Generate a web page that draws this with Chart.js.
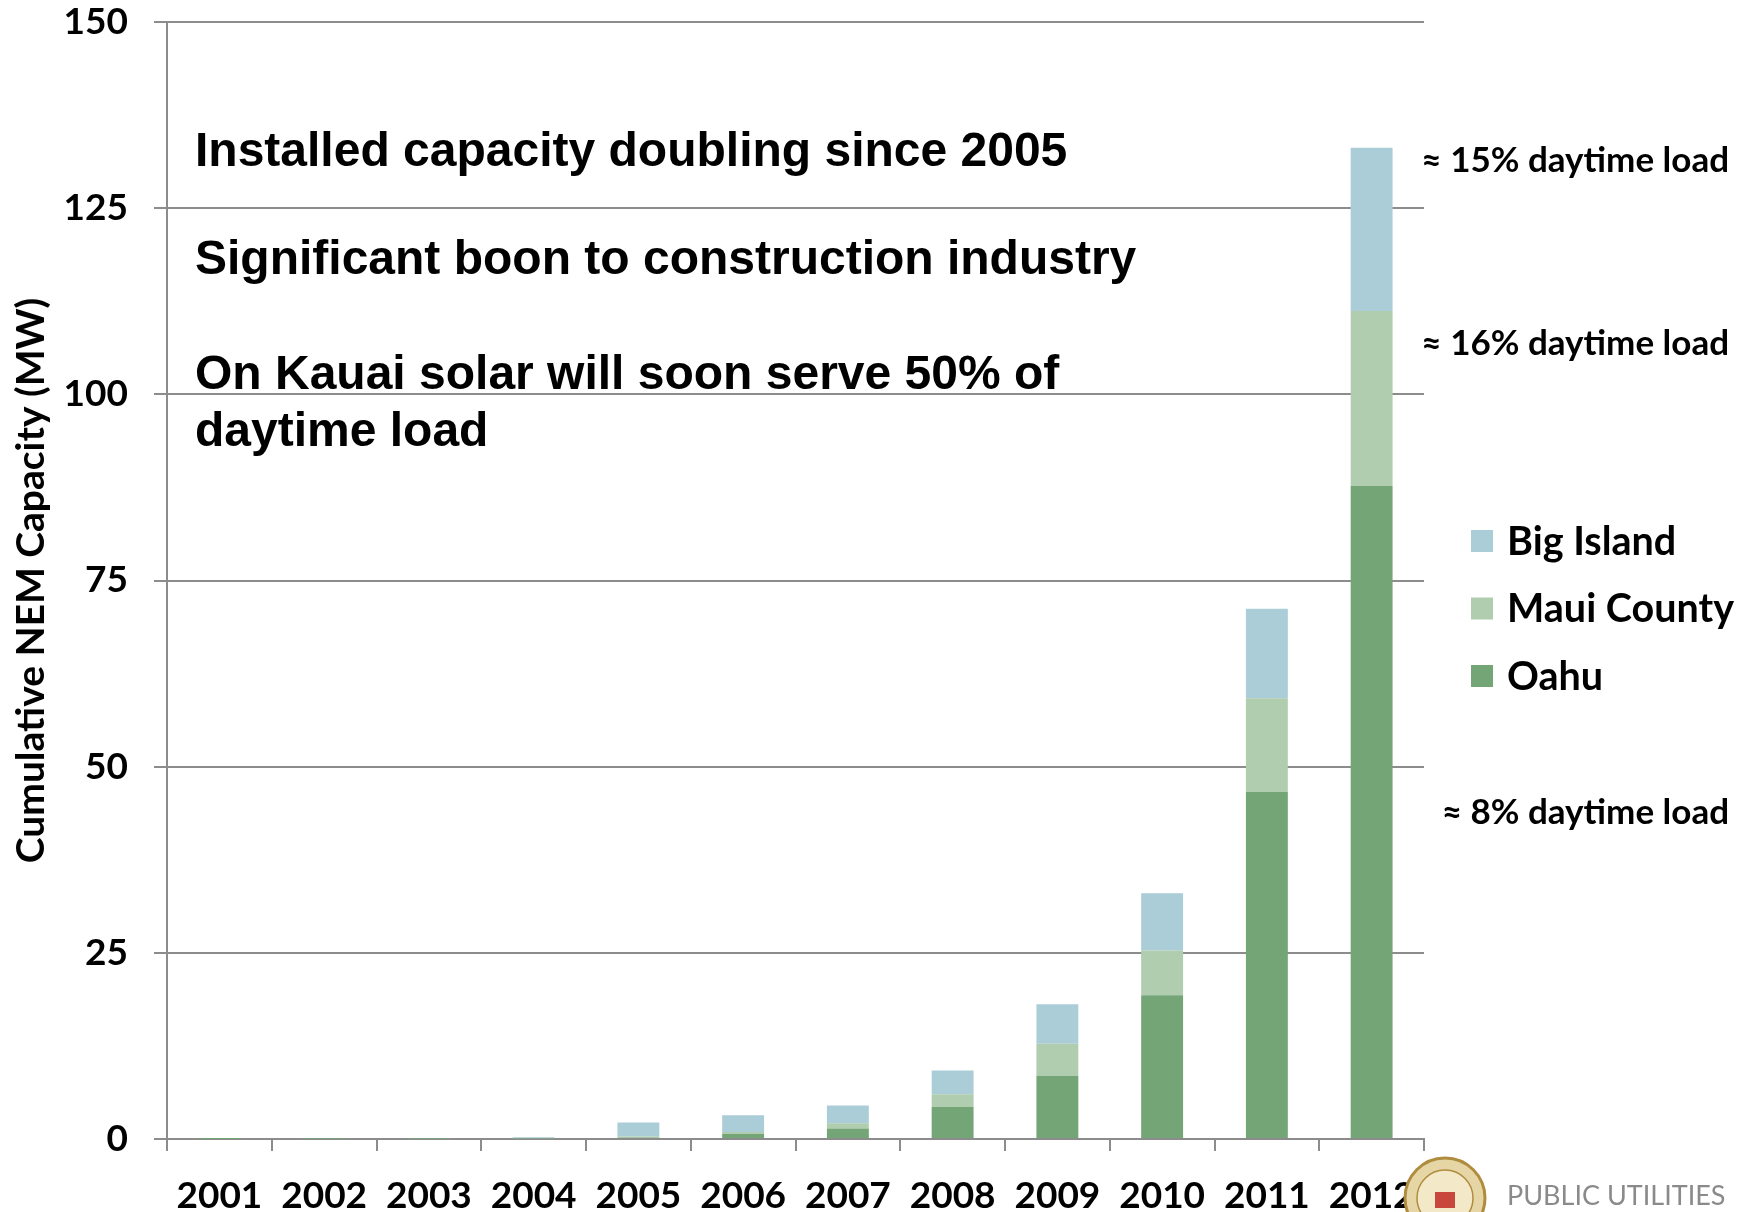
<!DOCTYPE html>
<html>
<head>
<meta charset="utf-8">
<script src="https://cdn.jsdelivr.net/npm/chart.js@4"></script>
<style>
  html, body { margin: 0; padding: 0; background: #fff; }
  #wrap { width: 1750px; height: 1212px; position: relative; }
</style>
</head>
<body>
<div id="wrap"><canvas id="nemChart"></canvas></div>
<script>
const years = ['2001', '2002', '2003', '2004', '2005', '2006', '2007', '2008', '2009', '2010', '2011', '2012'];
const oahu = [0.01, 0.02, 0.04, 0.1, 0.2, 0.7, 1.4, 4.3, 8.5, 19.3, 46.6, 87.7];
const maui = [0, 0.01, 0.01, 0.05, 0.15, 0.25, 0.7, 1.7, 4.3, 6.0, 12.6, 23.5];
const bigIsland = [0, 0.01, 0.02, 0.1, 1.85, 2.25, 2.4, 3.2, 5.3, 7.7, 12.0, 21.9];
const yTicks = [0, 25, 50, 75, 100, 125, 150];

const notes = [
  'Installed capacity doubling since 2005',
  'Significant boon to construction industry',
  'On Kauai solar will soon serve 50% of',
  'daytime load'
];
const loadNotes = ['\u2248 15% daytime load', '\u2248 16% daytime load', '\u2248 8% daytime load'];

const gridGrey = '#8c8c8c';

// text boxes, legend and footer drawn on top of the chart
const overlay = {
  id: 'overlay',
  afterDraw(chart) {
    const ctx = chart.ctx;
    const y = chart.scales.y;
    const area = chart.chartArea;
    ctx.save();

    ctx.fillStyle = '#000';
    ctx.font = 'bold 48px "Liberation Sans", Arial, sans-serif';
    ctx.textAlign = 'left';
    ctx.textBaseline = 'middle';
    const noteLevels = [132.5, 117.9, 102.5, 94.9];
    notes.forEach((t, i) => ctx.fillText(t, area.left + 28, y.getPixelForValue(noteLevels[i])));

    // percentages beside the 2012 bar
    const last = years.length - 1;
    const topBig = oahu[last] + maui[last] + bigIsland[last];
    const levels = [topBig - 1.7, oahu[last] + maui[last] - 4.4, oahu[last] / 2];
    ctx.font = 'bold 35px Lato, sans-serif';
    ctx.textAlign = 'right';
    loadNotes.forEach((t, i) => ctx.fillText(t, 1729, y.getPixelForValue(levels[i])));

    // legend, reverse order of the stack
    const ds = chart.data.datasets.slice().reverse();
    ctx.font = 'bold 39.5px Lato, sans-serif';
    ctx.textAlign = 'left';
    ds.forEach((d, i) => {
      const cy = 541 + i * 67.5;
      ctx.fillStyle = d.backgroundColor;
      ctx.fillRect(1471, cy - 11, 22, 22);
      ctx.fillStyle = '#000';
      ctx.fillText(d.label, 1507, cy + 1);
    });

    // seal + agency name
    ctx.beginPath();
    ctx.arc(1445, 1198, 40, 0, Math.PI * 2);
    ctx.fillStyle = '#e6d6a6';
    ctx.fill();
    ctx.lineWidth = 3;
    ctx.strokeStyle = '#b08c3e';
    ctx.stroke();
    ctx.beginPath();
    ctx.arc(1445, 1198, 28, 0, Math.PI * 2);
    ctx.fillStyle = '#f3e9c8';
    ctx.fill();
    ctx.lineWidth = 1.5;
    ctx.stroke();
    ctx.fillStyle = '#c9463d';
    ctx.fillRect(1435, 1192, 20, 16);
    ctx.fillStyle = '#8a8a8a';
    ctx.font = '27px Lato, sans-serif';
    ctx.fillText('PUBLIC UTILITIES', 1507, 1196);
    ctx.restore();
  }
};

const ctx = document.getElementById('nemChart').getContext('2d');
new Chart(ctx, {
  type: 'bar',
  data: {
    labels: years,
    datasets: [
      { label: 'Oahu', data: oahu, backgroundColor: '#73a577' },
      { label: 'Maui County', data: maui, backgroundColor: '#b0cdb0' },
      { label: 'Big Island', data: bigIsland, backgroundColor: '#aacdd7' }
    ]
  },
  options: {
    responsive: true,
    maintainAspectRatio: false,
    animation: false,
    layout: { padding: { left: 0, right: 326, top: 22, bottom: 0 } },
    datasets: { bar: { categoryPercentage: 1, barPercentage: 0.4, borderWidth: 0 } },
    plugins: {
      legend: { display: false },
      tooltip: { enabled: false }
    },
    scales: {
      x: {
        stacked: true,
        afterFit: s => { s.height = 73; s.paddingLeft = 0; s.paddingRight = 0; },
        grid: { offset: true, drawOnChartArea: false, color: gridGrey, lineWidth: 2, tickLength: 12 },
        border: { color: gridGrey, width: 2 },
        ticks: { color: '#000', font: { family: 'Lato', weight: 'bold', size: 37 }, padding: 23, maxRotation: 0 }
      },
      y: {
        stacked: true,
        min: 0,
        max: 150,
        afterFit: s => { s.width = 167; s.paddingTop = 0; s.paddingBottom = 0; },
        afterBuildTicks: s => { s.ticks = yTicks.map(v => ({ value: v })); },
        grid: { color: gridGrey, lineWidth: 2, tickLength: 13 },
        border: { color: gridGrey, width: 2 },
        ticks: { color: '#000', font: { family: 'Lato', weight: 'bold', size: 37 }, padding: 26 },
        title: {
          display: true,
          text: 'Cumulative NEM Capacity (MW)',
          color: '#000',
          font: { family: 'Lato', weight: 'bold', size: 39 },
          padding: { top: 8, bottom: 0 }
        }
      }
    }
  },
  plugins: [overlay]
});
</script>
</body>
</html>
